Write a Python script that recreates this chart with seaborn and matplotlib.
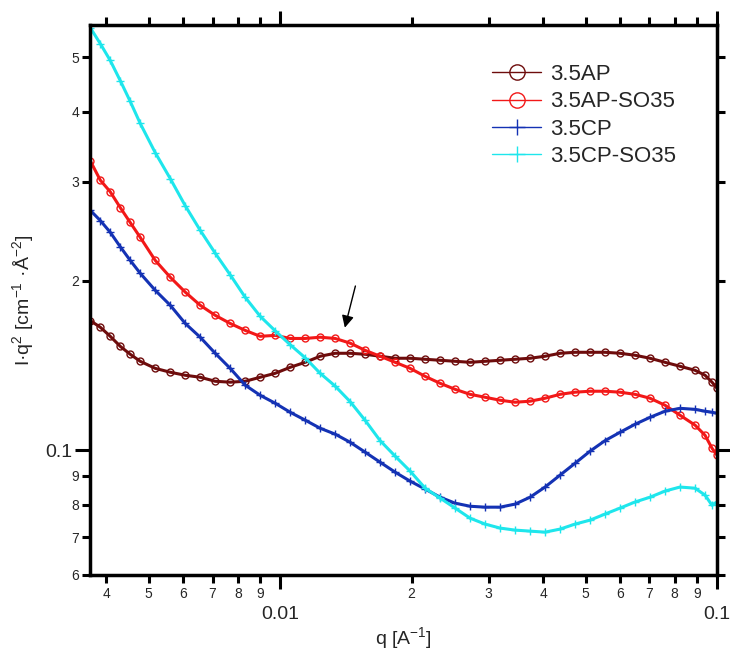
import numpy as np
import pandas as pd
import matplotlib
matplotlib.use("Agg")
import matplotlib.pyplot as plt
import seaborn as sns
from matplotlib.ticker import FixedLocator, FixedFormatter
from matplotlib.lines import Line2D

# data (q in 1/A, I*q^2)
q = [0.003674, 0.003875, 0.004083, 0.004304, 0.004536, 0.004782, 0.005176,
     0.005602, 0.006063, 0.006560, 0.007100, 0.007684, 0.008316, 0.009000,
     0.009741, 0.010541, 0.011407, 0.012346, 0.013362, 0.014460, 0.015649,
     0.016935, 0.018330, 0.019837, 0.021468, 0.023233, 0.025147, 0.027214,
     0.029452, 0.031872, 0.034495, 0.037330, 0.040400, 0.043722, 0.047324,
     0.051216, 0.055424, 0.059979, 0.064924, 0.070262, 0.076035, 0.082284,
     0.089063, 0.093890, 0.097410, 0.1]

ap = [0.170, 0.1654, 0.1594, 0.153, 0.1481, 0.1439, 0.1398, 0.1376, 0.1359,
      0.1348, 0.1326, 0.1321, 0.1326, 0.1348, 0.1370, 0.1404, 0.1433, 0.1469,
      0.1487, 0.1487, 0.1481, 0.1469, 0.1457, 0.1457, 0.1451, 0.1445, 0.1439,
      0.1433, 0.1439, 0.1445, 0.1451, 0.1457, 0.1469, 0.1487, 0.1493, 0.1493,
      0.1493, 0.1487, 0.1475, 0.1457, 0.1433, 0.1410, 0.1387, 0.1359, 0.1321,
      0.1289]

ap_so35 = [0.327, 0.302, 0.288, 0.270, 0.254, 0.239, 0.2175, 0.203, 0.191,
           0.181, 0.1737, 0.168, 0.1633, 0.1594, 0.160, 0.158, 0.158, 0.1588,
           0.158, 0.155, 0.1505, 0.1469, 0.1433, 0.1398, 0.1353, 0.1315,
           0.1283, 0.1257, 0.1242, 0.1227, 0.1217, 0.1222, 0.1237, 0.1257,
           0.1268, 0.1273, 0.1273, 0.1268, 0.1257, 0.1237, 0.1202, 0.1154,
           0.1108, 0.1063, 0.1008, 0.098]

cp = [0.267, 0.256, 0.244, 0.230, 0.2175, 0.2063, 0.1924, 0.181, 0.168,
      0.1588, 0.1487, 0.1398, 0.1305, 0.1252, 0.1212, 0.1168, 0.1131, 0.1094,
      0.1068, 0.1033, 0.0992, 0.0952, 0.0914, 0.0881, 0.0853, 0.0825, 0.0805,
      0.0795, 0.0792, 0.0792, 0.0802, 0.0825, 0.0860, 0.0903, 0.0948, 0.0996,
      0.104, 0.1076, 0.1112, 0.1144, 0.1173, 0.1187, 0.1182, 0.1173, 0.1168,
      0.1163]

cp_so35 = [0.564, 0.528, 0.493, 0.454, 0.417, 0.381, 0.338, 0.304, 0.272,
           0.246, 0.224, 0.205, 0.187, 0.173, 0.163, 0.154, 0.146, 0.137,
           0.130, 0.122, 0.113, 0.104, 0.0976, 0.0918, 0.0856, 0.0822, 0.0789,
           0.0757, 0.0739, 0.0727, 0.0721, 0.0718, 0.0715, 0.0724, 0.0739,
           0.0751, 0.0770, 0.0789, 0.0809, 0.0825, 0.0846, 0.0860, 0.0856,
           0.0832, 0.0798, 0.0809]

labels = ["3.5AP", "3.5AP-SO35", "3.5CP", "3.5CP-SO35"]
colors = ["#6e0c0c", "#f21818", "#1432b4", "#1ee6ec"]
markers = ["o", "o", "+", "+"]

x_minor_vals = [0.004, 0.005, 0.006, 0.007, 0.008, 0.009,
                0.02, 0.03, 0.04, 0.05, 0.06, 0.07, 0.08, 0.09]
x_minor_labels = ["4", "5", "6", "7", "8", "9",
                  "2", "3", "4", "5", "6", "7", "8", "9"]
x_major_vals = [0.01, 0.1]
x_major_labels = ["0.01", "0.1"]
y_minor_vals = [0.06, 0.07, 0.08, 0.09, 0.2, 0.3, 0.4, 0.5]
y_minor_labels = ["6", "7", "8", "9", "2", "3", "4", "5"]
y_major_vals = [0.1]
y_major_labels = ["0.1"]

sns.set_style("ticks")
plt.rcParams["font.family"] = ["Liberation Sans", "DejaVu Sans"]
plt.rcParams["mathtext.default"] = "regular"

fig = plt.figure(figsize=(7.3, 6.6), dpi=100)
ax = fig.add_axes([0.1233, 0.1288, 0.8589, 0.8333])

series = [ap, ap_so35, cp, cp_so35]
for vals, lab, col, mk in zip(series, labels, colors, markers):
    df = pd.DataFrame({"q": q, "I": vals})
    if mk == "o":
        sns.lineplot(data=df, x="q", y="I", ax=ax, sort=False, color=col,
                     lw=2.2, marker="o", markersize=5,
                     markerfacecolor="none", markeredgecolor=col,
                     markeredgewidth=1.0)
    else:
        sns.lineplot(data=df, x="q", y="I", ax=ax, sort=False, color=col,
                     lw=2.2, marker="+", markersize=6,
                     markeredgecolor=col, markeredgewidth=1.0)

ax.set_xscale("log")
ax.set_yscale("log")
ax.set_xlim(0.00367, 0.1)
ax.set_ylim(0.06, 0.57)

ax.xaxis.set_major_locator(FixedLocator(x_major_vals))
ax.xaxis.set_major_formatter(FixedFormatter(x_major_labels))
ax.xaxis.set_minor_locator(FixedLocator(x_minor_vals))
ax.xaxis.set_minor_formatter(FixedFormatter(x_minor_labels))
ax.yaxis.set_major_locator(FixedLocator(y_major_vals))
ax.yaxis.set_major_formatter(FixedFormatter(y_major_labels))
ax.yaxis.set_minor_locator(FixedLocator(y_minor_vals))
ax.yaxis.set_minor_formatter(FixedFormatter(y_minor_labels))

ax.tick_params(which="both", direction="out", top=True, right=True,
               labeltop=False, labelright=False, width=2.2, color="black")
ax.tick_params(axis="x", which="major", length=10, pad=12, labelsize=14)
ax.tick_params(axis="x", which="minor", length=6, pad=3, labelsize=10)
ax.tick_params(axis="y", which="major", length=11, pad=2, labelsize=14)
ax.tick_params(axis="y", which="minor", length=6, pad=2, labelsize=10)

for s in ax.spines.values():
    s.set_linewidth(2.5)
    s.set_color("black")

ax.set_xlabel("q [A$^{-1}$]", fontsize=14, labelpad=2)
ax.set_ylabel("I·q$^{2}$ [cm$^{-1}$ ·Å$^{-2}$]", fontsize=14, labelpad=6)

# arrow pointing at the shoulder of 3.5AP-SO35
ax.annotate("", xy=(0.01401, 0.1633), xytext=(0.01492, 0.198),
            arrowprops=dict(arrowstyle="-|>", color="black", lw=1.0,
                            mutation_scale=18))

handles = []
for lab, col, mk in zip(labels, colors, markers):
    if mk == "o":
        h = Line2D([], [], color=col, lw=1.0, marker="o", markersize=11,
                   markerfacecolor="none", markeredgecolor=col, markeredgewidth=1.0)
    else:
        h = Line2D([], [], color=col, lw=1.0, marker="+", markersize=12,
                   markeredgecolor=col, markeredgewidth=1.0)
    handles.append(h)
ax.legend(handles, labels, loc="upper left", bbox_to_anchor=(0.61, 0.965),
          frameon=False, fontsize=16, handlelength=2.2, labelspacing=0.28,
          handletextpad=0.4)

fig.savefig("out.png", dpi=100)
